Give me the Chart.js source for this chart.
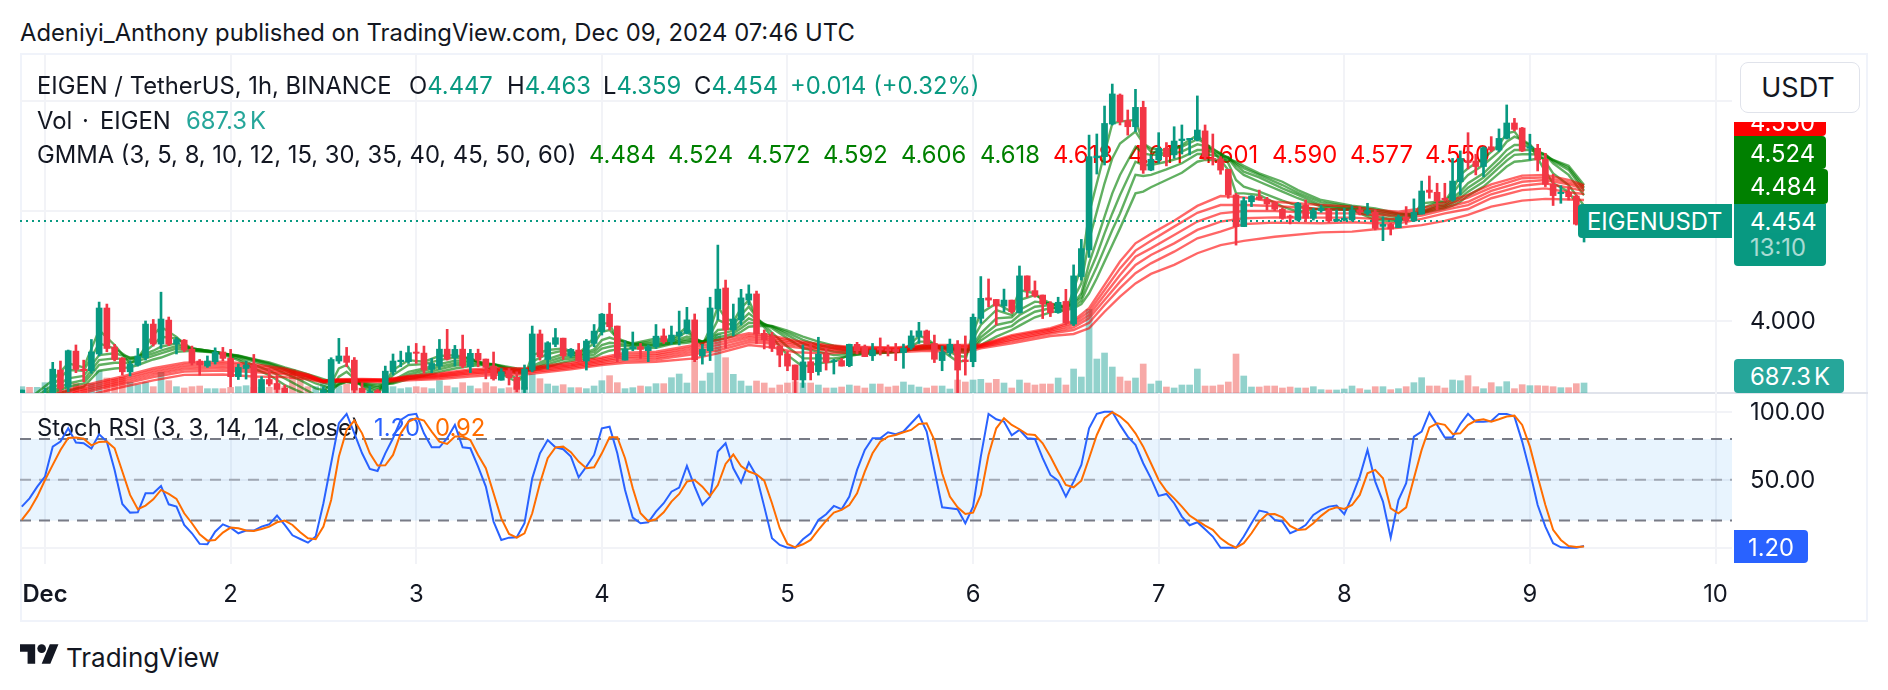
<!DOCTYPE html>
<html>
<head>
<meta charset="utf-8">
<title>EIGENUSDT</title>
<script src="https://cdn.jsdelivr.net/npm/chart.js@4.4.1/dist/chart.umd.js"></script>
<style>
  html, body { margin: 0; padding: 0; background: #fff; }
  body { position: relative; width: 1888px; height: 690px; overflow: hidden; font-family: Inter, sans-serif; color: #131722; }
  .txt { position: absolute; font-size: 23.8px; line-height: 26px; white-space: nowrap; z-index: 1; }
  canvas { position: absolute; left: 0; z-index: 2; }
  canvas.under { z-index: 0; }
  .frame { position: absolute; left: 20px; top: 53px; width: 1844px; height: 565px; border: 2px solid #f0f3fa; }
  .sep { position: absolute; left: 20px; top: 392px; width: 1848px; height: 2px; background: #e0e3eb; }
  .tag { position: absolute; z-index: 3; color: #fff; font-size: 23.8px; line-height: 26px; white-space: nowrap; box-sizing: border-box; overflow: hidden; }
  .usdt { position: absolute; z-index: 3; left: 1740px; top: 62px; width: 120px; height: 51px; box-sizing: border-box; background: #fff; border: 1px solid #e0e3eb; border-radius: 8px; padding-right: 4px; text-align: center; font-size: 27px; line-height: 49px; }
</style>
</head>
<body>
<div class="frame"></div>
<div class="sep"></div>

<div class="txt" style="left:20px;top:20px">Adeniyi_Anthony published on TradingView.com, Dec 09, 2024 07:46 UTC</div>

<div class="txt" style="left:37px;top:73px">EIGEN / TetherUS, 1h, BINANCE</div>
<div class="txt" style="left:409px;top:73px">O<span style="color:#089981">4.447</span></div>
<div class="txt" style="left:507px;top:73px">H<span style="color:#089981">4.463</span></div>
<div class="txt" style="left:603px;top:73px">L<span style="color:#089981">4.359</span></div>
<div class="txt" style="left:694px;top:73px">C<span style="color:#089981">4.454</span></div>
<div class="txt" style="left:790px;top:73px;color:#089981">+0.014 (+0.32%)</div>

<div class="txt" style="left:37px;top:108px">Vol</div>
<div class="txt" style="left:82px;top:108px">·</div>
<div class="txt" style="left:100px;top:108px">EIGEN</div>
<div class="txt" style="left:186px;top:108px;color:#26a69a">687.3<span style="margin-left:3px">K</span></div>

<div class="txt" style="left:37px;top:142px">GMMA (3, 5, 8, 10, 12, 15, 30, 35, 40, 45, 50, 60)</div>
<div class="txt" style="left:589px;top:142px;color:#008000">4.484</div>
<div class="txt" style="left:668px;top:142px;color:#008000">4.524</div>
<div class="txt" style="left:747px;top:142px;color:#008000">4.572</div>
<div class="txt" style="left:823px;top:142px;color:#008000">4.592</div>
<div class="txt" style="left:901px;top:142px;color:#008000">4.606</div>
<div class="txt" style="left:980px;top:142px;color:#008000">4.618</div>
<div class="txt" style="left:1053px;top:142px;color:#ff0000">4.618</div>
<div class="txt" style="left:1128px;top:142px;color:#ff0000">4.611</div>
<div class="txt" style="left:1198px;top:142px;color:#ff0000">4.601</div>
<div class="txt" style="left:1272px;top:142px;color:#ff0000">4.590</div>
<div class="txt" style="left:1350px;top:142px;color:#ff0000">4.577</div>
<div class="txt" style="left:1425px;top:142px;color:#ff0000">4.550</div>

<div class="txt" style="left:37px;top:415px">Stoch RSI (3, 3, 14, 14, close)</div>
<div class="txt" style="left:374px;top:415px;color:#2962ff">1.20</div>
<div class="txt" style="left:435px;top:415px;color:#ff6d00">0.92</div>

<canvas id="priceGrid" class="under" style="top:54px" width="1888" height="339"></canvas>
<canvas id="stochGrid" class="under" style="top:393px" width="1888" height="227"></canvas>
<canvas id="priceChart" style="top:54px" width="1888" height="339"></canvas>
<canvas id="stochChart" style="top:393px" width="1888" height="227"></canvas>

<div class="usdt">USDT</div>
<div class="tag" style="left:1734px;top:122px;width:92px;height:14px;background:#ff0000;border-radius:0 0 4px 0;padding-left:16px;line-height:2px">4.550</div>
<div class="tag" style="left:1734px;top:136px;width:92px;height:33px;background:#008000;border-radius:0 4px 4px 0;padding:5px 0 0 16px">4.524</div>
<div class="tag" style="left:1734px;top:169px;width:94px;height:35px;background:#008000;border-radius:0 4px 4px 0;padding:5px 0 0 16px">4.484</div>
<div class="tag" style="left:1578px;top:204px;width:154px;height:34px;background:#089981;border-radius:4px 0 0 4px;padding:5px 0 0 9px">EIGENUSDT</div>
<div class="tag" style="left:1734px;top:204px;width:92px;height:62px;background:#089981;border-radius:0 0 4px 4px;padding:5px 0 0 16px">4.454<br><span style="opacity:.65">13:10</span></div>
<div class="tag" style="left:1734px;top:359px;width:110px;height:34px;background:#26a69a;border-radius:4px;padding:5px 0 0 16px">687.3<span style="margin-left:3px">K</span></div>
<div class="tag" style="left:1734px;top:530px;width:74px;height:33px;background:#2962ff;border-radius:0 4px 4px 0;padding:5px 0 0 14px">1.20</div>

<svg style="position:absolute;left:20px;top:644px" width="39" height="20" viewBox="0 4 36 18"><path fill="#131722" d="M14 22H7V11H0V4h14v18zM28 22h-8l7.5-18h8L28 22z"/><circle fill="#131722" cx="20" cy="8" r="4"/></svg>
<div class="txt" style="left:66px;top:645px;font-size:26px">TradingView</div>

<script>
// hours counted from Dec 1 00:00 UTC, one candle per hour
const firstHour = -3;
const opens = [
  3.66,3.64,3.63,3.65,3.66,3.777,3.701,3.863,3.781,3.774,
  3.85,4.059,3.881,3.831,3.769,3.8,3.833,3.986,3.895,4.004,
  3.895,3.913,3.872,3.818,3.795,3.815,3.859,3.83,3.747,3.784,
  3.8,3.66,3.734,3.716,3.694,3.65,3.63,3.62,3.61,3.64,
  3.66,3.818,3.841,3.822,3.694,3.66,3.683,3.66,3.769,3.815,
  3.815,3.859,3.854,3.78,3.795,3.872,3.833,3.872,3.792,3.853,
  3.827,3.795,3.731,3.774,3.744,3.689,3.777,3.941,3.825,3.894,
  3.922,3.841,3.868,3.818,3.898,3.951,4.031,3.977,3.822,3.874,
  3.883,3.865,3.883,3.932,3.906,3.932,3.944,4.005,3.841,3.865,
  4.055,4.15,3.959,4.005,4.095,4.123,3.944,3.929,3.886,3.85,
  3.8,3.732,3.815,3.77,3.85,3.815,3.82,3.797,3.894,3.883,
  3.842,3.876,3.873,3.871,3.856,3.88,3.929,3.955,3.898,3.82,
  3.856,3.894,3.823,3.815,4.012,4.105,4.098,4.068,4.095,4.038,
  4.205,4.138,4.118,4.08,4.038,4.089,3.986,4.202,4.323,4.742,
  4.747,4.895,5.027,4.911,4.883,4.971,4.686,4.732,4.785,4.755,
  4.82,4.823,4.823,4.864,4.739,4.736,4.689,4.573,4.429,4.542,
  4.565,4.553,4.538,4.508,4.477,4.459,4.527,4.467,4.502,4.505,
  4.455,4.459,4.459,4.505,4.489,4.494,4.43,4.439,4.424,4.473,
  4.455,4.486,4.595,4.585,4.558,4.55,4.633,4.727,4.727,4.702,
  4.792,4.777,4.83,4.9,4.877,4.785,4.785,4.735,4.621,4.579,
  4.585,4.568,4.447
];
const highs = [
  3.686,3.65,3.65,3.694,3.812,3.818,3.868,3.891,3.822,3.916,
  4.086,4.077,3.894,3.834,3.819,3.875,4.0,4.007,4.131,4.018,
  3.925,3.916,3.886,3.825,3.841,3.878,3.88,3.871,3.804,3.818,
  3.848,3.747,3.784,3.754,3.709,3.66,3.65,3.64,3.65,3.701,
  3.833,3.921,3.88,3.834,3.719,3.704,3.689,3.795,3.85,3.863,
  3.886,3.898,3.886,3.83,3.916,3.962,3.889,3.936,3.871,3.872,
  3.827,3.859,3.784,3.784,3.769,3.8,3.977,3.959,3.906,3.966,
  3.922,3.875,3.898,3.916,3.984,4.034,4.081,3.977,3.91,3.95,
  3.898,3.891,3.984,3.964,3.977,4.045,4.062,4.032,3.894,4.108,
  4.345,4.186,4.077,4.144,4.164,4.136,3.959,3.948,3.886,3.861,
  3.8,3.891,3.898,3.926,3.876,3.826,3.83,3.895,3.903,3.891,
  3.898,3.923,3.891,3.898,3.895,3.956,3.994,3.959,3.936,3.886,
  3.918,3.911,3.932,4.032,4.202,4.191,4.098,4.145,4.095,4.25,
  4.205,4.182,4.118,4.088,4.108,4.144,4.255,4.371,4.845,4.85,
  4.977,5.077,5.032,4.959,5.053,4.999,4.755,4.856,4.811,4.883,
  4.891,4.83,5.023,4.891,4.85,4.747,4.689,4.58,4.562,4.57,
  4.595,4.562,4.542,4.512,4.482,4.539,4.55,4.512,4.527,4.512,
  4.505,4.512,4.523,4.52,4.535,4.505,4.474,4.444,4.482,4.52,
  4.555,4.636,4.659,4.626,4.626,4.739,4.773,4.856,4.758,4.792,
  4.838,4.873,4.982,4.921,4.88,4.849,4.803,4.762,4.667,4.615,
  4.611,4.573,4.463
];
const lows = [
  3.64,3.62,3.61,3.64,3.64,3.678,3.678,3.765,3.724,3.762,
  3.841,3.86,3.819,3.754,3.75,3.795,3.822,3.886,3.875,3.888,
  3.85,3.86,3.8,3.754,3.789,3.804,3.819,3.701,3.734,3.736,
  3.64,3.64,3.704,3.66,3.64,3.62,3.61,3.6,3.6,3.62,
  3.65,3.807,3.792,3.66,3.65,3.64,3.64,3.65,3.754,3.792,
  3.807,3.807,3.762,3.765,3.78,3.822,3.795,3.787,3.765,3.792,
  3.737,3.731,3.731,3.709,3.678,3.66,3.769,3.822,3.781,3.883,
  3.825,3.834,3.815,3.777,3.883,3.936,3.959,3.815,3.822,3.865,
  3.83,3.815,3.875,3.898,3.894,3.891,3.941,3.815,3.804,3.82,
  4.005,3.876,3.932,3.982,4.073,3.898,3.873,3.861,3.792,3.774,
  3.674,3.698,3.732,3.754,3.777,3.759,3.795,3.792,3.85,3.838,
  3.82,3.845,3.841,3.82,3.785,3.871,3.898,3.895,3.811,3.774,
  3.841,3.674,3.754,3.792,3.989,4.065,3.982,4.042,4.035,4.035,
  4.108,4.108,4.011,4.02,4.035,3.982,3.979,4.186,4.289,4.668,
  4.709,4.891,4.891,4.845,4.861,4.671,4.683,4.717,4.705,4.739,
  4.759,4.755,4.818,4.732,4.709,4.667,4.558,4.345,4.429,4.52,
  4.55,4.505,4.502,4.462,4.441,4.455,4.452,4.459,4.494,4.448,
  4.452,4.455,4.455,4.482,4.482,4.414,4.365,4.391,4.424,4.439,
  4.452,4.486,4.558,4.505,4.545,4.545,4.573,4.691,4.664,4.656,
  4.77,4.77,4.827,4.864,4.77,4.732,4.682,4.611,4.525,4.535,
  4.55,4.436,4.359
];
const closes = [
  3.686,3.63,3.64,3.67,3.781,3.694,3.865,3.78,3.774,3.859,
  4.059,3.875,3.825,3.769,3.804,3.841,3.986,3.895,4.009,3.895,
  3.916,3.868,3.81,3.8,3.818,3.859,3.83,3.747,3.789,3.8,
  3.66,3.734,3.713,3.689,3.662,3.63,3.62,3.61,3.64,3.686,
  3.825,3.841,3.812,3.686,3.66,3.678,3.66,3.772,3.818,3.822,
  3.856,3.853,3.777,3.807,3.872,3.827,3.871,3.795,3.853,3.822,
  3.789,3.737,3.769,3.742,3.689,3.781,3.941,3.837,3.901,3.924,
  3.841,3.871,3.819,3.909,3.954,4.031,3.974,3.834,3.872,3.883,
  3.871,3.883,3.931,3.906,3.936,3.95,4.005,3.823,3.871,4.059,
  4.145,3.959,4.009,4.105,4.123,3.941,3.914,3.876,3.845,3.795,
  3.732,3.814,3.765,3.85,3.811,3.82,3.795,3.894,3.865,3.838,
  3.868,3.868,3.865,3.861,3.876,3.932,3.955,3.895,3.826,3.859,
  3.894,3.777,3.815,4.017,4.103,4.095,4.068,4.095,4.042,4.205,
  4.138,4.114,4.077,4.038,4.085,3.992,4.205,4.329,4.747,4.75,
  4.898,5.032,4.906,4.883,4.971,4.686,4.735,4.785,4.747,4.818,
  4.827,4.83,4.868,4.747,4.735,4.686,4.573,4.429,4.547,4.568,
  4.553,4.532,4.508,4.467,4.471,4.535,4.467,4.502,4.512,4.455,
  4.462,4.467,4.505,4.494,4.502,4.421,4.439,4.418,4.473,4.455,
  4.494,4.591,4.585,4.545,4.55,4.636,4.739,4.72,4.702,4.788,
  4.777,4.83,4.9,4.871,4.773,4.792,4.732,4.621,4.57,4.585,
  4.565,4.44,4.454
];
// thousands of EIGEN per candle
const volumes = [
  435,389,389,710,389,389,458,664,344,664,
  1534,1031,962,1076,733,573,733,435,1420,847,
  435,344,435,481,298,298,298,389,435,504,
  389,389,389,275,435,1603,1076,435,435,733,
  389,481,618,389,344,160,160,344,435,298,
  366,435,366,298,847,481,366,710,481,298,
  710,435,298,366,435,389,1305,985,618,481,
  573,366,366,298,481,847,1191,710,298,366,
  481,435,641,641,1053,1305,687,2198,824,1374,
  4030,2427,1282,824,481,824,687,344,550,687,
  779,687,687,550,344,344,412,550,481,344,
  618,618,412,481,756,550,412,344,481,481,
  275,893,756,893,939,687,939,687,344,893,
  687,550,618,618,1031,550,1649,1099,5748,2336,
  2748,1786,1099,824,1031,1992,618,824,412,344,
  550,550,1649,481,481,550,756,2679,1168,412,
  412,481,481,344,412,344,344,435,229,206,
  206,275,481,298,206,435,435,229,298,435,
  710,1053,481,481,344,893,847,1191,435,298,
  710,435,779,298,573,504,504,481,435,366,
  366,641,687.3
];
const stochK = [
  30.2,36.3,44.9,52.3,74.3,78,87.8,77.3,76.8,72.9,
  83.4,78,57.2,32.2,25.8,26,40,40,45.4,31.9,
  30.2,16.7,10.6,2.8,2.5,11.8,17.2,14.8,10.6,12.6,
  12.6,15.5,17.2,23.6,16.7,9.1,6.4,3.7,8.2,32.7,
  62.1,91.5,98.4,84.1,69.4,57.9,56.4,69.4,80.5,93.9,
  97.6,98.4,84.1,73.8,73.8,80.5,90.3,73.8,73.1,59.6,
  44.9,19.2,5.7,7.4,7.7,18,51,69.4,79.2,73.8,
  72.4,67,51.8,59.6,68.2,87.8,89,69.4,42.5,22.1,
  18,18.7,26.5,32.7,41.2,44.2,60.1,44.9,31.4,37.6,
  70.7,76.8,58.4,47.9,62.6,52.8,30.2,6.9,2,0,
  0,6.2,10.6,20.4,24.6,30.7,28.3,37.6,57.2,71.9,
  80.5,80.5,84.9,83.4,85.4,91.5,97.6,85.4,57.2,29.7,
  29,28.3,18,30.2,67,98.4,94.4,92.7,82.7,86.6,
  80.5,80,65.8,53.5,49.3,37.6,48.6,60.9,87.8,98.4,
  100,100,90.3,81.7,75.6,62.1,51,38.1,39.5,32.7,
  22.9,16.5,18.7,13.5,8.2,0,0,0,8.2,18,
  27.3,26,20.4,19.2,10.6,13.1,16.7,24.1,27.8,30.2,
  31,24.6,37.6,52.3,71.9,48.6,33.9,7.4,35.1,47.4,
  81.7,85.4,99.3,90.3,81,81.2,91,98.4,92.7,92.7,
  93.2,98.4,98.4,96.4,78,56,31.4,15.5,3.3,0.3,
  0,0,1.2
];
const stochD = [
  20.4,27.8,37.6,49.8,60.9,71.9,80.7,81,80.2,75.3,
  77.8,78,73.1,56,38.8,28.3,31,35.6,42.5,39.5,
  35.9,25.3,18,9.9,5.2,5.7,11.1,14.8,14.3,12.6,
  12.3,13.8,15.5,18.7,19.9,16.7,11.3,6.9,6.2,15.5,
  35.1,67,86.6,93.5,84.1,69.4,60.4,60.6,68.2,84.1,
  92.7,95.2,93.5,85.4,78,76.3,81.7,81.7,79.2,68.2,
  58.4,40,21.6,10.1,7.4,10.6,25.3,47.4,65.8,73.8,
  74.3,70.2,63.3,58.4,59.1,69.4,81.2,81.2,65.8,43.7,
  25.3,19.4,20.9,26,33.9,39.5,48.6,49.8,44.9,38.1,
  46.1,61.6,68.5,60.1,56,54,49.3,32.7,14.3,2.8,
  0.3,2.5,5.7,13.1,19.9,25.8,27.8,31.4,40,56,
  69.4,78,81.7,82.9,84.9,86.6,91,91.5,79.2,54.7,
  37.6,29.7,24.8,25.8,38.8,68.2,87.8,95.2,90.3,87.1,
  83.4,82.9,76.8,67,56,46.1,44.4,49.3,65.8,82.9,
  95.2,99.6,96.4,91.5,84.1,74.3,62.1,49.8,41.7,36.3,
  30.2,23.6,19.9,16.2,13.1,6.9,2.8,0,3.3,10.6,
  19.2,24.6,24.8,22.4,16,13.1,13.5,18,23.4,27.8,
  29.7,28.5,31.4,38.8,54.7,57.2,51,29,25.3,29.7,
  51,71.9,88.5,91.5,90.3,83.6,84.1,90.3,93.5,94.4,
  92.7,94.4,96.4,97.1,90.3,74.3,52.3,31.4,13.1,5.7,
  1.3,0.6,0.92
];

// GMMA short group, sampled at the hours where the lines bend
const fastHours = [
  -3,1,3,5,7,9,11,12,14,15,
  17,19,22,25,27,29,31,33,35,37,
  38,39,41,43,45,47,49,51,53,55,
  58,61,62,63,65,67,69,71,72,73,
  74,76,79,81,83,84,85,86,87,88,
  89,90,91,92,94,96,98,100,102,104,
  106,109,111,113,114,116,118,119,120,121,
  123,125,126,128,130,132,133,134,135,136,
  137,138,139,141,142,143,145,147,149,150,
  152,153,154,155,157,160,162,165,169,172,
  175,177,178,180,181,182,183,184,186,188,
  189,190,191,192,194,195,197,199
];
const ema3 = [
  3.62,3.731,3.807,3.789,3.959,3.891,3.807,3.83,3.936,3.974,
  3.928,3.865,3.86,3.822,3.784,3.754,3.709,3.678,3.64,3.716,
  3.784,3.8,3.701,3.663,3.777,3.822,3.815,3.841,3.845,3.83,
  3.777,3.724,3.747,3.845,3.868,3.875,3.85,3.925,3.989,3.989,
  3.913,3.898,3.921,3.914,3.974,3.921,3.891,3.966,4.065,4.012,
  3.997,4.058,4.095,4.017,3.926,3.845,3.792,3.808,3.815,3.845,
  3.85,3.856,3.865,3.932,3.921,3.865,3.815,3.82,3.95,4.035,
  4.08,4.042,4.141,4.126,4.065,4.042,4.141,4.247,4.489,4.626,
  4.762,4.898,4.906,4.914,4.807,4.77,4.762,4.8,4.845,4.808,
  4.732,4.686,4.58,4.58,4.573,4.52,4.497,4.512,4.505,4.459,
  4.452,4.482,4.535,4.542,4.545,4.595,4.664,4.694,4.739,4.8,
  4.853,4.861,4.815,4.8,4.679,4.626,4.588,4.484
];
const ema5 = [
  3.61,3.709,3.777,3.774,3.898,3.875,3.83,3.834,3.891,3.928,
  3.921,3.875,3.86,3.83,3.8,3.774,3.739,3.701,3.663,3.686,
  3.747,3.769,3.709,3.678,3.754,3.8,3.804,3.822,3.834,3.83,
  3.789,3.739,3.75,3.815,3.85,3.865,3.85,3.898,3.951,3.959,
  3.921,3.895,3.909,3.909,3.951,3.921,3.898,3.936,4.005,3.989,
  3.982,4.027,4.065,4.017,3.947,3.883,3.83,3.83,3.83,3.841,
  3.853,3.856,3.861,3.906,3.906,3.88,3.841,3.838,3.92,3.982,
  4.05,4.027,4.095,4.118,4.08,4.057,4.103,4.171,4.368,4.497,
  4.626,4.739,4.807,4.861,4.807,4.785,4.774,4.792,4.826,4.808,
  4.759,4.717,4.641,4.611,4.588,4.547,4.523,4.505,4.505,4.474,
  4.459,4.474,4.512,4.539,4.539,4.58,4.626,4.664,4.709,4.77,
  4.815,4.838,4.823,4.803,4.724,4.671,4.618,4.524
];
const ema8 = [
  3.60,3.694,3.739,3.75,3.845,3.853,3.834,3.837,3.865,3.883,
  3.898,3.875,3.86,3.837,3.815,3.795,3.762,3.731,3.694,3.678,
  3.716,3.731,3.709,3.689,3.731,3.769,3.784,3.804,3.819,3.822,
  3.8,3.762,3.762,3.795,3.827,3.85,3.845,3.871,3.913,3.925,
  3.913,3.895,3.898,3.905,3.929,3.921,3.906,3.921,3.959,3.962,
  3.967,4.001,4.035,4.008,3.967,3.921,3.876,3.861,3.845,3.85,
  3.856,3.858,3.861,3.886,3.891,3.883,3.861,3.856,3.89,3.944,
  4.012,4.017,4.05,4.088,4.08,4.065,4.08,4.126,4.262,4.368,
  4.474,4.58,4.664,4.792,4.762,4.755,4.755,4.77,4.803,4.796,
  4.762,4.739,4.694,4.664,4.633,4.588,4.558,4.52,4.509,4.489,
  4.47,4.479,4.497,4.527,4.53,4.558,4.588,4.626,4.671,4.739,
  4.777,4.8,4.8,4.792,4.755,4.717,4.664,4.572
];
const ema10 = [
  3.59,3.683,3.716,3.731,3.822,3.83,3.825,3.83,3.853,3.865,
  3.886,3.875,3.859,3.841,3.822,3.804,3.777,3.747,3.716,3.694,
  3.709,3.724,3.713,3.698,3.724,3.757,3.774,3.792,3.807,3.815,
  3.804,3.769,3.769,3.784,3.815,3.837,3.841,3.859,3.891,3.901,
  3.898,3.891,3.891,3.901,3.917,3.917,3.906,3.914,3.941,3.947,
  3.956,3.982,4.012,3.997,3.974,3.936,3.898,3.876,3.861,3.856,
  3.861,3.861,3.862,3.88,3.883,3.883,3.868,3.865,3.878,3.926,
  3.982,3.997,4.027,4.065,4.073,4.065,4.077,4.108,4.217,4.30,
  4.398,4.489,4.573,4.724,4.709,4.709,4.724,4.744,4.777,4.777,
  4.756,4.744,4.709,4.679,4.653,4.603,4.573,4.527,4.512,4.497,
  4.479,4.482,4.494,4.52,4.524,4.545,4.573,4.606,4.652,4.717,
  4.752,4.777,4.777,4.777,4.758,4.727,4.687,4.592
];
const ema12 = [
  3.58,3.674,3.701,3.716,3.8,3.81,3.81,3.818,3.841,3.853,
  3.875,3.871,3.857,3.841,3.825,3.807,3.784,3.759,3.731,3.709,
  3.713,3.724,3.716,3.704,3.719,3.747,3.762,3.78,3.797,3.804,
  3.804,3.777,3.777,3.78,3.804,3.825,3.834,3.847,3.875,3.883,
  3.888,3.886,3.886,3.898,3.909,3.911,3.906,3.909,3.926,3.933,
  3.944,3.967,3.992,3.989,3.977,3.947,3.914,3.891,3.876,3.865,
  3.865,3.864,3.864,3.874,3.879,3.88,3.871,3.868,3.873,3.911,
  3.959,3.977,4.004,4.042,4.058,4.062,4.065,4.092,4.171,4.247,
  4.33,4.414,4.489,4.664,4.659,4.664,4.689,4.717,4.759,4.759,
  4.747,4.744,4.717,4.694,4.664,4.618,4.583,4.539,4.518,4.505,
  4.485,4.485,4.491,4.512,4.518,4.535,4.558,4.588,4.633,4.697,
  4.729,4.755,4.758,4.758,4.755,4.732,4.697,4.606
];
const ema15 = [
  3.57,3.663,3.683,3.701,3.774,3.784,3.789,3.8,3.825,3.834,
  3.86,3.865,3.856,3.844,3.827,3.812,3.789,3.769,3.747,3.724,
  3.724,3.724,3.719,3.713,3.716,3.736,3.751,3.769,3.784,3.795,
  3.804,3.784,3.781,3.774,3.792,3.812,3.825,3.834,3.853,3.865,
  3.871,3.875,3.878,3.895,3.901,3.906,3.906,3.906,3.914,3.921,
  3.932,3.951,3.974,3.977,3.977,3.956,3.929,3.906,3.888,3.876,
  3.871,3.868,3.867,3.871,3.874,3.877,3.874,3.871,3.87,3.891,
  3.929,3.959,3.979,4.017,4.039,4.05,4.057,4.077,4.126,4.194,
  4.27,4.345,4.421,4.58,4.588,4.608,4.641,4.674,4.724,4.732,
  4.732,4.735,4.724,4.705,4.671,4.633,4.595,4.55,4.524,4.512,
  4.489,4.486,4.489,4.505,4.512,4.524,4.542,4.57,4.611,4.671,
  4.702,4.724,4.727,4.732,4.744,4.732,4.706,4.618
];

// GMMA long group
const slowHours = [
  -3,1,4,7,10,14,18,23,27,31,
  34,36,38,41,44,47,51,55,59,62,
  64,68,72,75,79,84,87,91,94,97,
  101,104,110,114,119,121,125,130,133,135,
  137,139,141,143,146,149,152,155,159,165,
  169,172,175,178,181,184,187,191,194,197,199
];
const ema30 = [
  3.61,3.665,3.698,3.724,3.748,3.785,3.81,3.815,3.804,3.784,
  3.757,3.73,3.735,3.736,3.734,3.75,3.762,3.78,3.787,3.784,
  3.795,3.81,3.834,3.856,3.86,3.891,3.914,3.944,3.933,3.911,
  3.891,3.883,3.88,3.891,3.891,3.893,3.936,3.967,4.001,4.058,
  4.164,4.27,4.353,4.396,4.456,4.523,4.568,4.562,4.542,4.527,
  4.52,4.505,4.497,4.512,4.539,4.573,4.621,4.661,4.664,4.641,4.618
];
const ema35 = [
  3.60,3.655,3.69,3.715,3.74,3.775,3.80,3.806,3.796,3.778,
  3.754,3.728,3.733,3.734,3.733,3.747,3.757,3.774,3.781,3.779,
  3.789,3.804,3.827,3.847,3.851,3.881,3.902,3.934,3.925,3.904,
  3.885,3.879,3.876,3.887,3.886,3.89,3.93,3.962,3.992,4.042,
  4.141,4.239,4.32,4.365,4.429,4.492,4.527,4.527,4.523,4.509,
  4.505,4.494,4.489,4.5,4.527,4.561,4.606,4.649,4.653,4.63,4.611
];
const ema40 = [
  3.59,3.645,3.682,3.706,3.731,3.765,3.79,3.796,3.787,3.772,
  3.75,3.727,3.731,3.732,3.731,3.743,3.752,3.768,3.776,3.775,
  3.784,3.798,3.82,3.838,3.843,3.871,3.89,3.924,3.916,3.897,
  3.879,3.874,3.872,3.883,3.881,3.887,3.923,3.956,3.982,4.027,
  4.118,4.209,4.292,4.33,4.391,4.452,4.489,4.5,4.5,4.489,
  4.489,4.482,4.479,4.489,4.515,4.542,4.591,4.633,4.641,4.621,4.601
];
const ema45 = [
  3.58,3.635,3.675,3.698,3.722,3.755,3.78,3.786,3.778,3.765,
  3.746,3.726,3.729,3.73,3.729,3.739,3.748,3.762,3.771,3.77,
  3.778,3.793,3.814,3.83,3.834,3.861,3.878,3.913,3.908,3.889,
  3.873,3.869,3.868,3.878,3.875,3.884,3.916,3.95,3.971,4.012,
  4.095,4.179,4.255,4.3,4.353,4.414,4.452,4.467,4.471,4.47,
  4.47,4.464,4.464,4.479,4.505,4.527,4.576,4.615,4.626,4.606,4.59
];
const ema50 = [
  3.57,3.625,3.665,3.69,3.713,3.745,3.77,3.775,3.768,3.758,
  3.742,3.724,3.727,3.728,3.727,3.736,3.743,3.756,3.766,3.765,
  3.772,3.787,3.807,3.82,3.825,3.85,3.866,3.903,3.898,3.88,
  3.866,3.864,3.864,3.873,3.868,3.881,3.909,3.943,3.959,3.992,
  4.073,4.149,4.217,4.262,4.315,4.376,4.406,4.441,4.447,4.444,
  4.449,4.444,4.444,4.464,4.489,4.509,4.558,4.595,4.603,4.585,4.577
];
const ema60 = [
  3.55,3.60,3.645,3.675,3.70,3.73,3.755,3.757,3.748,3.745,
  3.735,3.72,3.724,3.724,3.722,3.73,3.736,3.747,3.757,3.757,
  3.765,3.78,3.80,3.81,3.815,3.83,3.853,3.891,3.88,3.858,
  3.853,3.856,3.858,3.865,3.857,3.876,3.899,3.932,3.941,3.967,
  4.042,4.111,4.171,4.214,4.255,4.308,4.345,4.364,4.383,4.403,
  4.406,4.417,4.424,4.436,4.455,4.482,4.52,4.547,4.555,4.552,4.55
];

const lastPrice = 4.454;
const dayTicks = [0, 24, 48, 72, 96, 120, 144, 168, 192, 216];
const dayLabels = ['Dec', '2', '3', '4', '5', '6', '7', '8', '9', '10'];
const priceTicks = [5, 4.5, 4];
const stochTicks = [100, 50, 0];
const stochBands = [80, 50, 20];

const UP = '#089981', DOWN = '#f23645';
const GRID = '#f2f3f7';
const FONT = { family: 'Inter, sans-serif', size: 23.8 };
Chart.defaults.animation = false;
Chart.defaults.font.family = FONT.family;

const hourOf = i => firstHour + i;
const isUp = i => closes[i] >= opens[i];
const xMin = -3.232, xMax = 218.13;
const priceRange = [3.6727, 5.2136], stochRange = [-11.985, 113.75];

function lineSet(hours, values, color, order) {
  return {
    type: 'line', order, yAxisID: 'y',
    data: values.map((y, i) => ({ x: hours[i], y })),
    borderColor: color, borderWidth: 2.4, pointRadius: 0, tension: 0
  };
}

function xAxis(height, ticks, showGrid) {
  return {
    type: 'linear', min: xMin, max: xMax, offset: false,
    border: { display: false },
    grid: { display: showGrid, color: GRID, lineWidth: 2, drawTicks: false, offset: false },
    afterBuildTicks: s => { s.ticks = dayTicks.map(value => ({ value })); },
    afterFit: s => { s.height = height; s.paddingLeft = s.paddingRight = 0; },
    ticks
  };
}

function rightAxis(ticks, digits, range, showGrid) {
  return {
    position: 'right', min: range[0], max: range[1],
    border: { display: false },
    grid: { display: showGrid, color: GRID, lineWidth: 2, drawTicks: false },
    afterBuildTicks: s => { s.ticks = ticks.map(value => ({ value })); },
    // keep the plot area flush with the pane edges whatever the label height
    afterFit: s => { s.width = 136; s.paddingTop = s.paddingBottom = 0; },
    ticks: {
      display: showGrid, color: '#131722', font: FONT, padding: 18, labelOffset: 1,
      callback: v => v.toFixed(digits)
    }
  };
}

const paneBase = {
  responsive: false,
  layout: { padding: { left: 20, right: 20 } },
  plugins: { legend: { display: false }, tooltip: { enabled: false } }
};
const dayLabelTicks = {
  color: '#131722', padding: 17, maxRotation: 0, autoSkip: false,
  font: ctx => ({ family: FONT.family, size: FONT.size, weight: ctx.index === 0 ? '600' : '400' }),
  callback: (v, i) => dayLabels[i]
};

// grids and axis labels sit behind the legend text, the series in front of it
new Chart(document.getElementById('priceGrid'), {
  type: 'line',
  data: { datasets: [] },
  options: Object.assign({}, paneBase, {
    scales: { x: xAxis(0, { display: false }, true), y: rightAxis(priceTicks, 3, priceRange, true) }
  })
});
new Chart(document.getElementById('stochGrid'), {
  type: 'line',
  data: { datasets: [] },
  options: Object.assign({}, paneBase, {
    scales: { x: xAxis(56, dayLabelTicks, true), y: rightAxis(stochTicks, 2, stochRange, true) }
  })
});

// price pane: candles over the two GMMA groups over volume
const fastColor = 'rgba(0,128,0,0.62)', slowColor = 'rgba(255,0,0,0.6)';
new Chart(document.getElementById('priceChart'), {
  type: 'bar',
  data: {
    datasets: [
      {
        order: 0, yAxisID: 'y', barThickness: 6, grouped: false,
        data: opens.map((o, i) => ({ x: hourOf(i), y: [o, closes[i]] })),
        backgroundColor: opens.map((o, i) => isUp(i) ? UP : DOWN)
      },
      {
        order: 1, yAxisID: 'y', barThickness: 2, grouped: false,
        data: lows.map((l, i) => ({ x: hourOf(i), y: [l, highs[i]] })),
        backgroundColor: opens.map((o, i) => isUp(i) ? UP : DOWN)
      },
      Object.assign(lineSet([xMin, 199], [lastPrice, lastPrice], UP, 2), { borderWidth: 2, borderDash: [2, 4] }),
      ...[ema60, ema50, ema45, ema40, ema35, ema30].map(v => lineSet(slowHours, v, slowColor, 3)),
      ...[ema15, ema12, ema10, ema8, ema5, ema3].map(v => lineSet(fastHours, v, fastColor, 4)),
      {
        order: 5, yAxisID: 'yVol', barThickness: 6, grouped: false,
        data: volumes.map((v, i) => ({ x: hourOf(i), y: v })),
        backgroundColor: opens.map((o, i) => isUp(i) ? 'rgba(38,166,154,0.5)' : 'rgba(239,83,80,0.5)')
      }
    ]
  },
  options: Object.assign({}, paneBase, {
    scales: {
      x: xAxis(0, { display: false }, false),
      y: rightAxis(priceTicks, 3, priceRange, false),
      yVol: { display: false, min: 0, max: 23300 }
    }
  })
});

// oscillator pane with its 20-80 band
const bandSets = stochBands.map(level => ({
  type: 'line', order: level === 80 ? 4 : 3,
  data: [{ x: xMin, y: level }, { x: xMax, y: level }],
  borderColor: level === 50 ? 'rgba(120,123,134,0.6)' : '#787b86',
  borderDash: [11, 8], borderWidth: 2, pointRadius: 0,
  fill: level === 80 ? { value: 20 } : false,
  backgroundColor: 'rgba(33,150,243,0.1)'
}));
new Chart(document.getElementById('stochChart'), {
  type: 'line',
  data: {
    datasets: [
      ...bandSets,
      { order: 1, data: stochD.map((y, i) => ({ x: hourOf(i), y })), borderColor: '#ff6d00', borderWidth: 2, pointRadius: 0 },
      { order: 2, data: stochK.map((y, i) => ({ x: hourOf(i), y })), borderColor: '#2962ff', borderWidth: 2, pointRadius: 0 }
    ]
  },
  options: Object.assign({}, paneBase, {
    scales: {
      x: xAxis(56, { display: false }, false),
      y: rightAxis(stochTicks, 2, stochRange, false)
    }
  })
});
</script>
</body>
</html>
